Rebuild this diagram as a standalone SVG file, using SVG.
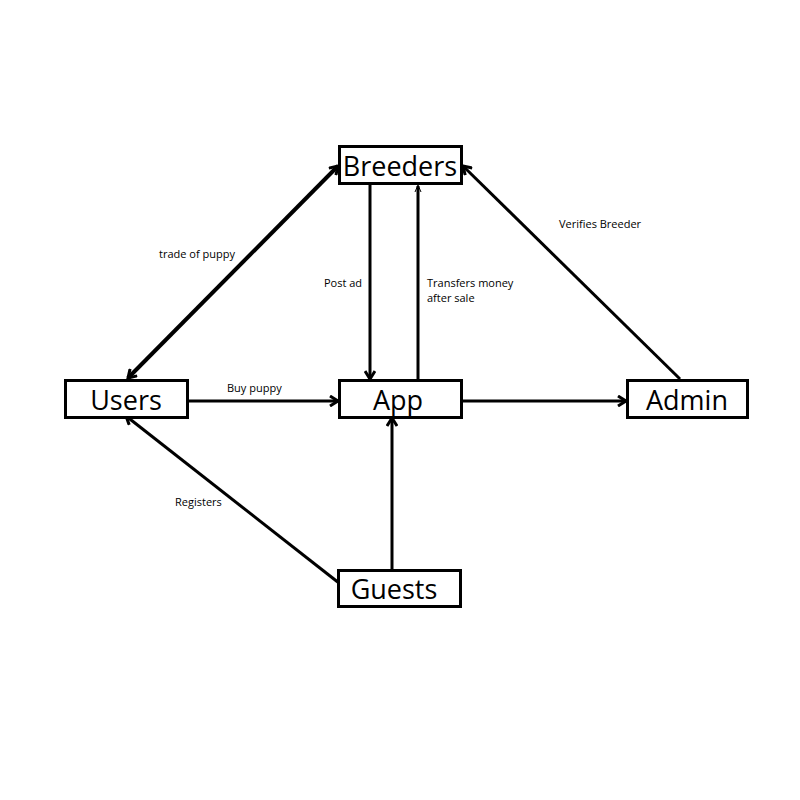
<svg xmlns="http://www.w3.org/2000/svg" width="800" height="800" viewBox="0 0 800 800">
<style>
.box{fill:#fff;stroke:#000;stroke-width:3}
.nl{font-family:"Open Sans","Liberation Sans",sans-serif;font-size:27px;fill:#000;text-anchor:middle}
.el{font-family:"Open Sans","Liberation Sans",sans-serif;font-size:11px;fill:#000}
.ln{stroke:#000;stroke-width:3;fill:none}
</style>
<defs>
<marker id="ah" markerWidth="12" markerHeight="12" refX="10" refY="6" orient="auto-start-reverse" markerUnits="userSpaceOnUse">
<path d="M2,1 L10,6 L2,11" fill="none" stroke="#000" stroke-width="3"/>
</marker>
</defs>
<rect width="800" height="800" fill="#fff"/>
<g id="connectors">
<line class="ln" x1="128" y1="378" x2="338" y2="166" marker-start="url(#ah)" marker-end="url(#ah)" style="stroke-width:4"/>
<line class="ln" x1="370" y1="184" x2="370" y2="379" marker-end="url(#ah)"/>
<line class="ln" x1="418" y1="379" x2="418" y2="186"/>
<path d="M415,192 L418,185 L421,192" fill="none" stroke="#000" stroke-width="1"/>
<line class="ln" x1="188" y1="401" x2="338" y2="401" marker-end="url(#ah)"/>
<line class="ln" x1="462" y1="401" x2="626" y2="401" marker-end="url(#ah)"/>
<line class="ln" x1="680" y1="379" x2="463" y2="166" marker-end="url(#ah)"/>
<line class="ln" x1="392" y1="569" x2="392" y2="418" marker-end="url(#ah)"/>
<line class="ln" x1="339" y1="583" x2="126" y2="416" marker-end="url(#ah)"/>
<text class="el" x="159" y="258">trade of puppy</text>
<text class="el" x="324" y="287">Post ad</text>
<text class="el" x="427" y="287">Transfers money</text>
<text class="el" x="427" y="302">after sale</text>
<text class="el" x="227" y="392">Buy puppy</text>
<text class="el" x="559" y="228">Verifies Breeder</text>
<text class="el" x="175" y="506">Registers</text>
</g>
<g id="breeders"><rect class="box" x="339.5" y="146.5" width="122" height="37"/><text class="nl" x="400" y="176">Breeders</text></g>
<g id="users"><rect class="box" x="65.5" y="380.5" width="122" height="37"/><text class="nl" x="126" y="410">Users</text></g>
<g id="app"><rect class="box" x="339.5" y="380.5" width="122" height="37"/><text class="nl" x="398" y="410">App</text></g>
<g id="admin"><rect class="box" x="627.5" y="380.5" width="120" height="37"/><text class="nl" x="687" y="410">Admin</text></g>
<g id="guests"><rect class="box" x="338.5" y="570.5" width="122" height="36"/><text class="nl" x="394" y="599">Guests</text></g>
</svg>
